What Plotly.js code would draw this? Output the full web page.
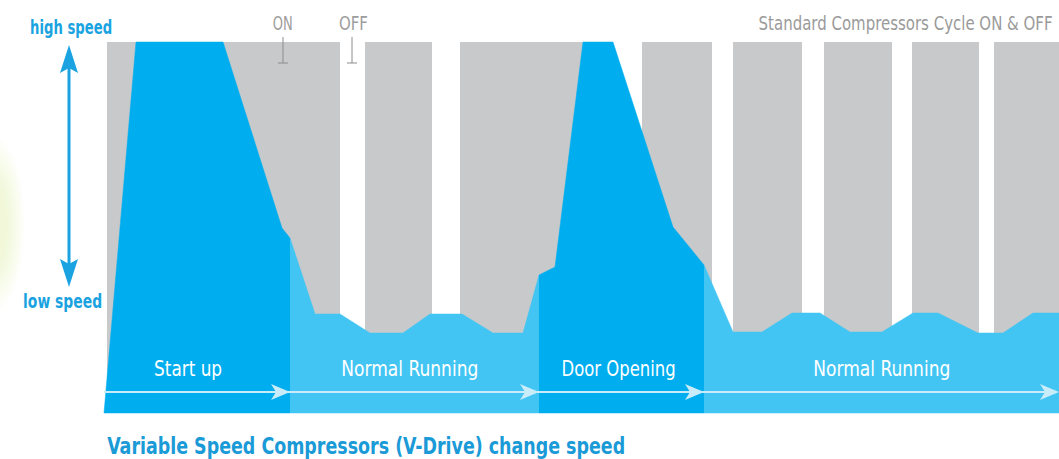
<!DOCTYPE html>
<html>
<head>
<meta charset="utf-8">
<script src="https://cdn.plot.ly/plotly-3.0.1.min.js"></script>
<style>html,body{margin:0;padding:0;background:#fff;}#chart{width:1059px;height:459px;}</style>
</head>
<body>
<div id="chart"></div>
<script>
// ---- data (time units along x, speed units along y) ----
// compressor ON periods (standard compressor)
var onStart = [107, 365, 460, 642, 733, 824, 912, 994];
var onEnd   = [340, 432, 598, 712, 802, 892, 979, 1059];
var speedMax = 417;   // high speed
var speedBase = 46;   // baseline

// variable speed compressor curve, per phase
var phases = ["Start up", "Normal Running", "Door Opening", "Normal Running"];
var phaseStart = [104, 290, 539, 704];
var phaseEnd   = [290, 539, 704, 1059];
var startupT = [104, 136, 223, 282, 290];
var startupS = [46, 417, 417, 231, 221];
var normal1T = [290, 315, 340, 370, 403, 430, 462, 493, 523, 539];
var normal1S = [221, 145, 145, 126, 126, 145, 145, 126, 126, 184];
var doorT    = [539, 555, 583, 613, 673, 704];
var doorS    = [184, 192, 417, 417, 232, 194];
var normal2T = [704, 733, 762, 792, 820, 850, 882, 913, 938, 978, 1003, 1033, 1059];
var normal2S = [194, 127, 127, 146, 146, 127, 127, 146, 146, 126, 126, 146, 146];

var arrowTips = [290, 539, 704, 1059];

var DARK = "#00aeef", LIGHT = "#42c5f3", GREY = "#c8c9cb";
var FONT = "'DejaVu Sans Condensed', 'DejaVu Sans', sans-serif";

function poly(T, S, color) {
  var x = T.slice(), y = S.slice();
  x.push(T[T.length - 1], T[0]);
  y.push(speedBase, speedBase);
  return {type: "scatter", mode: "lines", x: x, y: y, fill: "toself",
          fillcolor: color, line: {color: color, width: 0.5}, hoverinfo: "skip", showlegend: false};
}

var mid = onStart.map(function (s, i) { return (s + onEnd[i]) / 2; });
var wid = onStart.map(function (s, i) { return onEnd[i] - s; });

var traces = [
  {type: "bar", x: mid, width: wid, y: onStart.map(function () { return speedMax - speedBase; }),
   base: speedBase, marker: {color: GREY, line: {width: 0}}, hoverinfo: "skip", showlegend: false},
  poly(startupT, startupS, DARK),
  poly(normal1T, normal1S, LIGHT),
  poly(doorT, doorS, DARK),
  poly(normal2T, normal2S, LIGHT)
];

var shapes = [];
// soft glow on the left
for (var k = 0; k < 8; k++) {
  var rx = 34 - k * 3.5, ry = 85 - k * 7;
  shapes.push({type: "circle", xref: "x", yref: "y", x0: -rx, x1: rx * 0.7,
    y0: 235 - ry, y1: 235 + ry, fillcolor: "#e9f0b4", opacity: 0.08, line: {width: 0}, layer: "below"});
}
// phase arrow line
var arrowY = 67, ARC = "#c9ecfb";
shapes.push({type: "line", x0: phaseStart[0], x1: phaseEnd[3] - 4, y0: arrowY, y1: arrowY,
  line: {color: ARC, width: 2.2}});
arrowTips.forEach(function (t) {
  shapes.push({type: "path", path: "M" + t + "," + arrowY + " L" + (t - 19) + "," + (arrowY + 8) +
    " L" + (t - 14) + "," + arrowY + " L" + (t - 19) + "," + (arrowY - 8) + " Z",
    fillcolor: ARC, line: {width: 0}});
});
// vertical speed arrow
var BLUE = "#1aa3e0";
shapes.push({type: "line", x0: 69, x1: 69, y0: 185, y1: 402, line: {color: BLUE, width: 3}});
shapes.push({type: "path", path: "M69,414 L60,386 L69,391 L78,386 Z", fillcolor: BLUE, line: {width: 0}});
shapes.push({type: "path", path: "M69,172 L60,200 L69,195 L78,200 Z", fillcolor: BLUE, line: {width: 0}});
// ON / OFF markers
[283, 352].forEach(function (x) {
  shapes.push({type: "line", x0: x, x1: x, y0: 422, y1: 396, line: {color: "#8c8c8c", width: 1}});
  shapes.push({type: "line", x0: x - 5, x1: x + 5, y0: 396, y1: 396, line: {color: "#8c8c8c", width: 1}});
});

var ann = [], fitW = [];
function txt(x, y, s, size, color, bold, w) {
  ann.push({x: x, y: y, xref: "x", yref: "y", text: bold ? "<b>" + s + "</b>" : s, showarrow: false,
    xanchor: "center", yanchor: "middle", font: {family: FONT, size: size, color: color}});
  fitW.push(w);
}
txt(71, 432, "high speed", 19, BLUE, true, 82);
txt(62, 158, "low speed", 19, BLUE, true, 79);
txt(283, 436, "ON", 20, "#9d9d9d", false, 20);
txt(353, 436, "OFF", 20, "#9d9d9d", false, 29);
txt(905, 436, "Standard Compressors Cycle ON &amp; OFF", 20, "#9a9a9a", false, 294);
var phaseX = [188, 410, 618, 882];
var phaseW = [68, 137, 114, 137];
phases.forEach(function (p, i) {
  txt(phaseX[i], 90, p, 21, "#ffffff", false, phaseW[i]);
});
txt(366, 13, "Variable Speed Compressors (V-Drive) change speed", 23, "#1a9ad6", true, 518);

var layout = {
  width: 1059, height: 459, margin: {l: 0, r: 0, t: 0, b: 0},
  paper_bgcolor: "#ffffff", plot_bgcolor: "#ffffff",
  xaxis: {range: [0, 1059], visible: false, fixedrange: true},
  yaxis: {range: [0, 459], visible: false, fixedrange: true},
  shapes: shapes, annotations: ann, hovermode: false, showlegend: false
};
Plotly.newPlot("chart", traces, layout, {displayModeBar: false, staticPlot: true}).then(function () {
  var groups = document.querySelectorAll("#chart g.annotation");
  groups.forEach(function (g) {
    var i = parseInt(g.getAttribute("data-index"), 10);
    var t = g.querySelector("text.annotation-text");
    if (!t || isNaN(i) || !fitW[i]) return;
    t.setAttribute("textLength", fitW[i]);
    t.setAttribute("lengthAdjust", "spacingAndGlyphs");
    // shrink the (invisible) annotation box to the fitted text width
    var r = g.querySelector("rect.bg");
    if (r) {
      var w0 = parseFloat(r.getAttribute("width")) || 0;
      var x0 = parseFloat(r.getAttribute("x")) || 0;
      if (w0 > fitW[i]) {
        r.setAttribute("x", x0 + (w0 - fitW[i]) / 2);
        r.setAttribute("width", fitW[i]);
      }
    }
  });
});
</script>
</body>
</html>
